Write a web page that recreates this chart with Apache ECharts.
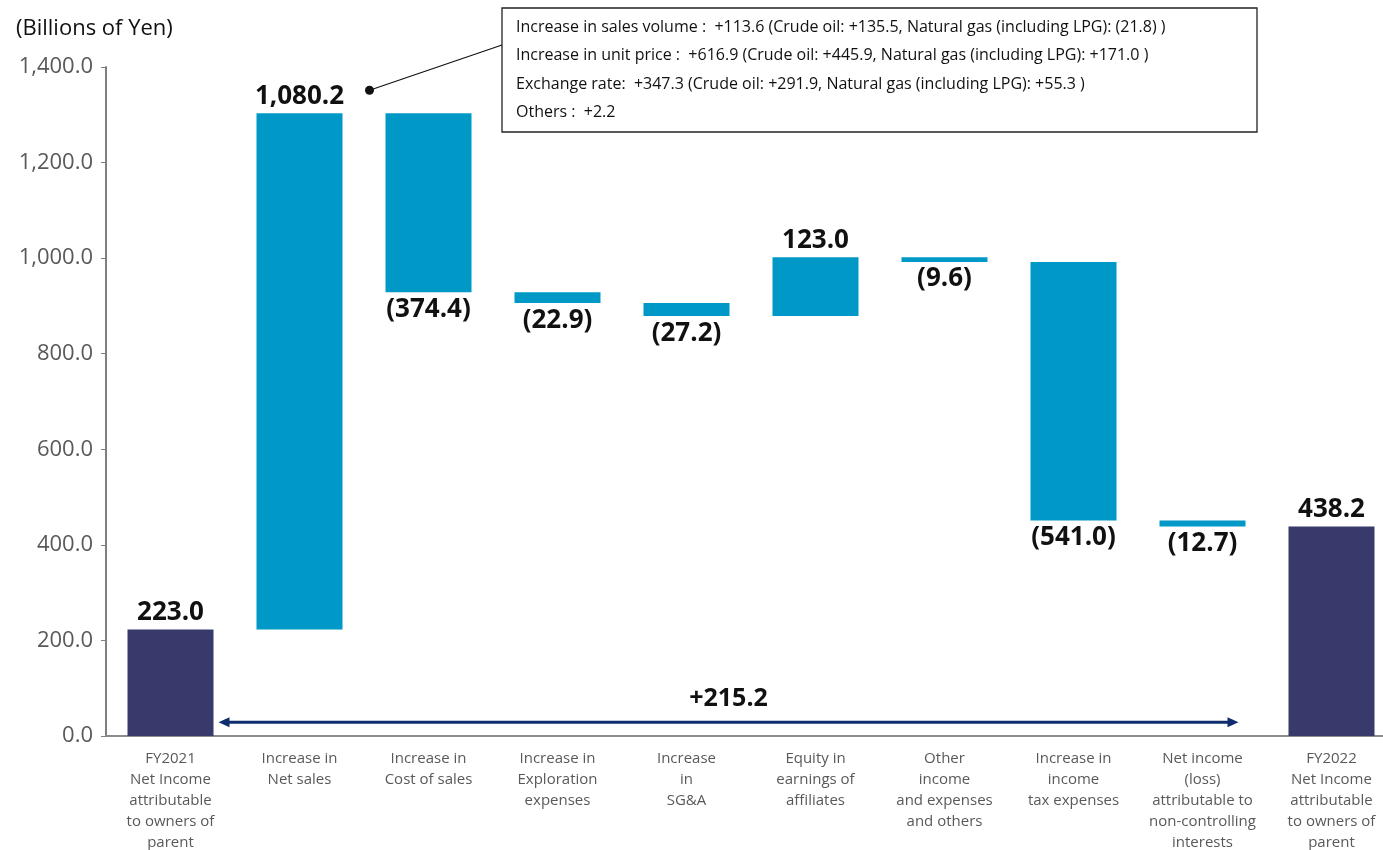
<!DOCTYPE html>
<html>
<head>
<meta charset="utf-8">
<script src="https://cdn.jsdelivr.net/npm/echarts@6/dist/echarts.min.js"></script>
<style>
  html, body { margin: 0; padding: 0; background: #fff; }
  #chart { width: 1383px; height: 850px; }
</style>
</head>
<body>
<div id="chart"></div>
<script>
// Net income bridge, FY2021 -> FY2022 (billions of yen)
const categories = [
  'FY2021\nNet Income\nattributable\nto owners of\nparent',
  'Increase in\nNet sales',
  'Increase in\nCost of sales',
  'Increase in\nExploration\nexpenses',
  'Increase\nin\nSG&A',
  'Equity in\nearnings of\naffiliates',
  'Other\nincome\nand expenses\nand others',
  'Increase in\nincome\ntax expenses',
  'Net income\n(loss)\nattributable to\nnon-controlling\ninterests',
  'FY2022\nNet Income\nattributable\nto owners of\nparent'
];
const changes = [223.0, 1080.2, -374.4, -22.9, -27.2, 123.0, -9.6, -541.0, -12.7, 438.2];
const isTotal = [true, false, false, false, false, false, false, false, false, true];

const yTicks = { min: 0, max: 1400, interval: 200 };

const noteLines = [
  'Increase in sales volume :  +113.6 (Crude oil: +135.5, Natural gas (including LPG): (21.8) )',
  'Increase in unit price :  +616.9 (Crude oil: +445.9, Natural gas (including LPG): +171.0 )',
  'Exchange rate:  +347.3 (Crude oil: +291.9, Natural gas (including LPG): +55.3 )',
  'Others :  +2.2'
];

const NAVY = '#373a6b';
const CYAN = '#0098c6';
const ARROW = '#0f2d6e';
const FONT = '"Open Sans", "Noto Sans", sans-serif';

// floating bar bases for the waterfall
const bases = [];
const heights = [];
let running = 0;
changes.forEach((v, i) => {
  if (isTotal[i]) {
    bases.push(0);
    heights.push(v);
    running = v;
  } else {
    const next = running + v;
    bases.push(Math.min(running, next));
    heights.push(Math.abs(v));
    running = next;
  }
});

function fmt(v) {
  const s = Math.abs(v).toLocaleString('en-US', { minimumFractionDigits: 1, maximumFractionDigits: 1 });
  return v < 0 ? '(' + s + ')' : s;
}

const barWidth = 86;

const chart = echarts.init(document.getElementById('chart'), null, { renderer: 'canvas' });

const option = {
  animation: false,
  backgroundColor: '#fff',
  textStyle: { fontFamily: FONT },
  grid: {
    left: 106, top: 67, width: 1290, bottom: 114,
    containLabel: false,
    outerBoundsMode: 'none'
  },
  title: {
    text: '(Billions of Yen)',
    left: 11, top: 13,
    textStyle: { fontFamily: FONT, fontSize: 22, fontWeight: 'normal', color: '#111' }
  },
  xAxis: {
    type: 'category',
    data: categories,
    axisLine: { lineStyle: { color: '#8c8c8c', width: 2 } },
    axisTick: { show: false },
    axisLabel: {
      interval: 0,
      color: '#595959',
      fontFamily: FONT,
      fontSize: 15,
      lineHeight: 21,
      margin: 12
    }
  },
  yAxis: {
    type: 'value',
    min: yTicks.min, max: yTicks.max, interval: yTicks.interval,
    splitLine: { show: false },
    axisLine: { show: true, lineStyle: { color: '#7f7f7f', width: 2 } },
    axisTick: { show: true, length: 5, lineStyle: { color: '#7f7f7f' } },
    axisLabel: {
      color: '#595959',
      fontFamily: FONT,
      fontSize: 22,
      margin: 13,
      formatter: v => v.toLocaleString('en-US', { minimumFractionDigits: 1, maximumFractionDigits: 1 })
    }
  },
  series: [
    {
      name: 'base',
      type: 'bar',
      stack: 'wf',
      barWidth: barWidth,
      itemStyle: { color: 'transparent' },
      emphasis: { disabled: true },
      data: bases
    },
    {
      name: 'amount',
      type: 'bar',
      stack: 'wf',
      barWidth: barWidth,
      data: heights.map((h, i) => ({
        value: h,
        itemStyle: { color: isTotal[i] ? NAVY : CYAN },
        label: {
          show: true,
          position: changes[i] < 0 ? 'bottom' : 'top',
          distance: 4,
          formatter: () => fmt(changes[i]),
          fontFamily: FONT,
          fontSize: 26,
          fontWeight: 'bold',
          color: '#111'
        }
      }))
    }
  ]
};

chart.setOption(option);

// overlays positioned from the axes: change arrow and the note callout
const first = changes[0];
const last = changes[changes.length - 1];
const diff = last - first;

const leftX = chart.convertToPixel({ xAxisIndex: 0 }, 0) + barWidth / 2 + 5;
const rightX = chart.convertToPixel({ xAxisIndex: 0 }, categories.length - 2) + 36;
const arrowY = chart.convertToPixel({ yAxisIndex: 0 }, 29);

// callout dot near the net sales label
const salesTop = bases[1] + heights[1];
const dotX = chart.convertToPixel({ xAxisIndex: 0 }, 1) + 70;
const dotY = chart.convertToPixel({ yAxisIndex: 0 }, salesTop) - 23;

const boxLeft = 502, boxTop = 8, boxW = 755, boxH = 124;

const graphics = [
  {
    type: 'line',
    shape: { x1: leftX + 8, y1: arrowY, x2: rightX - 8, y2: arrowY },
    style: { stroke: ARROW, lineWidth: 3 }
  },
  {
    type: 'polygon',
    shape: { points: [[leftX, arrowY], [leftX + 11, arrowY - 5], [leftX + 11, arrowY + 5]] },
    style: { fill: ARROW }
  },
  {
    type: 'polygon',
    shape: { points: [[rightX, arrowY], [rightX - 11, arrowY - 5], [rightX - 11, arrowY + 5]] },
    style: { fill: ARROW }
  },
  {
    type: 'text',
    x: (leftX + rightX) / 2,
    y: arrowY - 23,
    style: {
      text: (diff >= 0 ? '+' : '') + diff.toFixed(1),
      fill: '#111',
      font: 'bold 25px ' + FONT,
      textAlign: 'center',
      textVerticalAlign: 'middle'
    }
  },
  {
    type: 'line',
    shape: { x1: dotX, y1: dotY, x2: boxLeft, y2: boxTop + 37 },
    style: { stroke: '#111', lineWidth: 1.2 }
  },
  {
    type: 'circle',
    shape: { cx: dotX, cy: dotY, r: 4.5 },
    style: { fill: '#111' }
  },
  {
    type: 'rect',
    shape: { x: boxLeft, y: boxTop, width: boxW, height: boxH },
    style: { fill: '#fff', stroke: '#222', lineWidth: 1.3 }
  }
];

noteLines.forEach((t, i) => {
  graphics.push({
    type: 'text',
    x: boxLeft + 14,
    y: boxTop + 19 + i * 28.5,
    style: {
      text: t,
      fill: '#111',
      font: '16px ' + FONT,
      textAlign: 'left',
      textVerticalAlign: 'middle'
    }
  });
});

chart.setOption({ graphic: graphics });
</script>
</body>
</html>
